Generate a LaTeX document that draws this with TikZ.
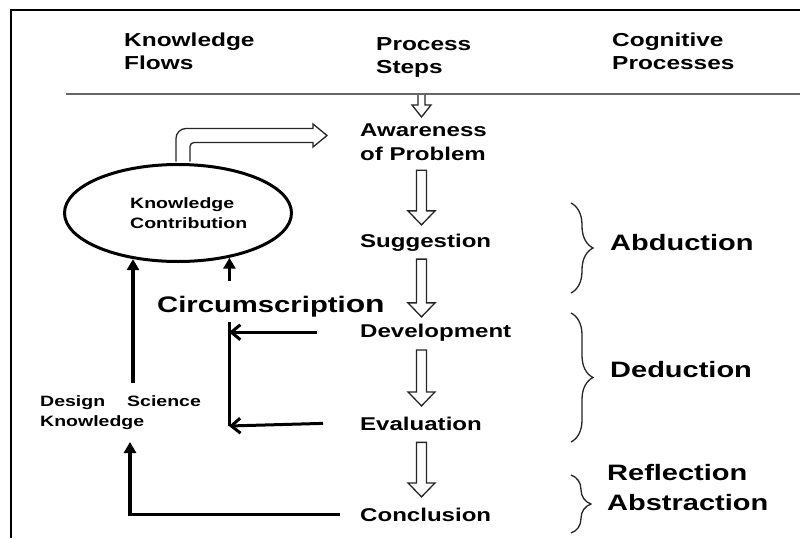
\documentclass[tikz,border=0pt]{standalone}
\usepackage{fontspec}
\setmainfont{Liberation Sans}[FakeStretch=1.3]
\usetikzlibrary{arrows.meta,calc,shapes.geometric,decorations.pathreplacing}

% hollow block arrow running down the process-step column
\newcommand\stepflow[4]{%
  \draw[hollow] let \p1=($(#1.south -| colx)+(0,#3)$), \p2=($(#2.north -| colx)+(0,-#4)$) in
    (\x1-5pt,\y1) -- (\x1-5pt,\y2+14pt) -- (\x1-13.5pt,\y2+14pt) -- (\x1,\y2)
    -- (\x1+13.5pt,\y2+14pt) -- (\x1+5pt,\y2+14pt) -- (\x1+5pt,\y1) -- cycle;}

\begin{document}
\begin{tikzpicture}[x=1pt,y=-1pt,
  lbl/.style={inner sep=0pt, text=black},
  hdr/.style={lbl, font=\fontsize{18.8}{23}\selectfont\bfseries},
  stepbox/.style={lbl, font=\fontsize{18.5}{24}\selectfont\bfseries},
  cogn/.style={lbl, font=\fontsize{22.3}{30}\selectfont\bfseries},
  sml/.style={lbl, font=\fontsize{15}{20}\selectfont\bfseries},
  hollow/.style={draw=black!85, line width=1.3pt, fill=white, line join=miter},
  blk/.style={draw=black, line width=3.5pt, -{Triangle[length=11pt,width=12pt]}},
  barb/.style={draw=black, line width=3pt, -{Straight Barb[length=9pt,width=15pt]}},
  curly/.style={draw=black!85, line width=1.3pt, decorate, decoration={brace, amplitude=22pt}},
]
\useasboundingbox (0,0) rectangle (800,538);
\fill[white] (0,0) rectangle (800,538);

% frame and header rule
\draw[line width=1.6pt] (11,538) -- (11,10) -- (800,10);
\coordinate (sepL) at (66,94);
\coordinate (sepR) at (800,94);
\draw[line width=2pt, black!60] (sepL) -- (sepR);

% column headings
\node[hdr, anchor=north west, align=left] (kf) at (124,33) {Knowledge\\Flows};
\node[hdr, anchor=north west, align=left] (ps) at (376,37) {Process\\Steps};
\node[hdr, anchor=north west, align=left] (cp) at (612,33) {Cognitive\\Processes};

% process steps
\coordinate (colx) at (421.5,0);
\node[stepbox, anchor=north west, align=left] (aware) at (360,124) {Awareness\\of Problem};
\node[stepbox, anchor=base west] (sugg) at (360,247) {Suggestion};
\node[stepbox, anchor=base west] (dev) at (360,337) {Development};
\node[stepbox, anchor=base west] (eval) at (360,430) {Evaluation};
\node[stepbox, anchor=base west] (concl) at (360,521) {Conclusion};

% cognitive processes
\node[cogn, anchor=base west] (abd) at (610,250) {Abduction};
\node[cogn, anchor=base west] (ded) at (610,377) {Deduction};
\node[cogn, anchor=north west, align=left] (refl) at (607,464) {Reflection\\Abstraction};

% knowledge flows
\node[draw, ellipse, line width=3pt, minimum width=227pt, minimum height=97pt, inner sep=0pt] (kc) at (178,213) {};
\node[sml, anchor=north west, align=left] (kctext) at (130,197) {Knowledge\\Contribution};
\node[sml, anchor=north west, align=left] (dsk) at (40,395) {Design\hspace{22pt}Science\\Knowledge};
\node[lbl, font=\fontsize{22.5}{27}\selectfont\bfseries, anchor=base west] (circ) at (157,312)
  {Circumscripti{\fontsize{24.5}{27}\selectfont on}};

% step-to-step hollow arrows
\coordinate (topin) at (421.5,95);
\draw[hollow] let \p1=(topin), \p2=($(aware.north -| colx)+(0,-7)$) in
  (\x1-3.5pt,\y1) -- (\x1-3.5pt,\y2+12pt) -- (\x1-9.5pt,\y2+12pt) -- (\x1,\y2)
  -- (\x1+9.5pt,\y2+12pt) -- (\x1+3.5pt,\y2+12pt) -- (\x1+3.5pt,\y1);
\stepflow{aware}{sugg}{9}{8.5}
\stepflow{sugg}{dev}{8}{6.5}
\stepflow{dev}{eval}{9}{10.5}
\stepflow{eval}{concl}{12}{10.5}

% contribution feeds back into awareness
\draw[hollow] let \p1=($(kc.north)+(5,-1.5)$), \p2=($(aware.north west)+(-33,11.5)$) in
  (\x1-7pt,\y1) [rounded corners=10pt] -- (\x1-7pt,\y2+7pt) [sharp corners]
  -- (\x2-14pt,\y2+7pt) -- (\x2-14pt,\y2+11.5pt) -- (\x2,\y2) -- (\x2-14pt,\y2-11.5pt)
  -- (\x2-14pt,\y2-7pt) [rounded corners=4pt] -- (\x1+7pt,\y2-7pt) [sharp corners]
  -- (\x1+7pt,\y1);

% knowledge arrows
\coordinate (dskout) at (133,383);
\draw[blk] (dskout) -- (dskout |- kc.226);
\draw[blk] ([shift={(0,-15)}]circ.north -| kc.319) -- (kc.319);

% circumscription bracket
\coordinate (cbtop) at (229,322);
\coordinate (cbbot) at (229,426);
\draw[line width=3pt] (cbtop) -- (cbbot);
\draw[barb] ($(dev.west)+(-43,0)$) -- (dev.west -| cbtop);
\draw[barb] ($(eval.west)+(-37,0)$) -- (cbbot);

% conclusion back to design science knowledge
\coordinate (dskin) at (130,442);
\draw[blk] ($(concl.west)+(-20,0)$) -| (dskin);

% braces grouping the steps
\coordinate (b1t) at (571,203); \coordinate (b1b) at (571,293);
\coordinate (b2t) at (571,313); \coordinate (b2b) at (571,442);
\coordinate (b3t) at (571,475); \coordinate (b3b) at (571,533);
\draw[curly] (b1t) -- (b1b);
\draw[curly] (b2t) -- (b2b);
\draw[curly, decoration={brace, amplitude=20pt}] (b3t) -- (b3b);
\end{tikzpicture}
\end{document}
